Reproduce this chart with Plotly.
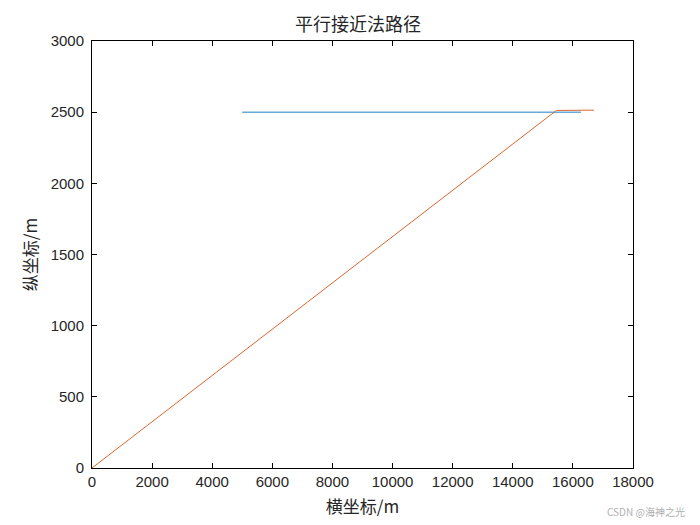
import plotly.graph_objects as go

# target path (blue) and missile path (orange)
target_x = [5000, 16270]
target_y = [2500, 2500]
missile_x = [0, 15450, 16700]
missile_y = [0, 2512, 2514]

x_ticks = [0, 2000, 4000, 6000, 8000, 10000, 12000, 14000, 16000, 18000]
y_ticks = [0, 500, 1000, 1500, 2000, 2500, 3000]

fig = go.Figure()
fig.add_trace(go.Scatter(x=target_x, y=target_y, mode='lines',
                         line=dict(color='#0072BD', width=0.9), name='目标'))
fig.add_trace(go.Scatter(x=missile_x, y=missile_y, mode='lines',
                         line=dict(color='#D95319', width=0.9), name='导弹'))

axis_style = dict(
  showline=True, linecolor='black', linewidth=1, mirror='ticks',
  ticks='inside', ticklen=5, tickcolor='black',
  showgrid=False, zeroline=False, automargin=False,
  tickfont=dict(family='Liberation Sans, Arial', size=15, color='#262626'),
)

fig.update_layout(
  width=700, height=525,
  margin=dict(l=84, r=75, t=33, b=65),
  paper_bgcolor='white', plot_bgcolor='white',
  showlegend=False,
  title=dict(text='平行接近法路径', x=0.5, xanchor='center', y=0.968, yanchor='middle',
             font=dict(family='Noto Sans CJK SC', size=18, color='#262626')),
  xaxis=dict(range=[0, 18000], tickvals=x_ticks, ticktext=[str(v) for v in x_ticks],
             title=dict(text='横坐标/m', standoff=12,
                        font=dict(family='Noto Sans CJK SC, Liberation Sans', size=17, color='#262626')),
             **axis_style),
  yaxis=dict(range=[0, 3000], tickvals=y_ticks, ticktext=[str(v) for v in y_ticks],
             ticklabelstandoff=4,
             title=dict(text='纵坐标/m', standoff=8,
                        font=dict(family='Noto Sans CJK SC, Liberation Sans', size=17, color='#262626')),
             **axis_style),
)

fig.add_annotation(text='CSDN @海神之光', xref='paper', yref='paper', x=1.1, y=-0.102,
                   xanchor='right', yanchor='middle', showarrow=False,
                   font=dict(family='Noto Sans CJK SC', size=10, color='#b0b0b0'))

fig.write_html("out.html")
